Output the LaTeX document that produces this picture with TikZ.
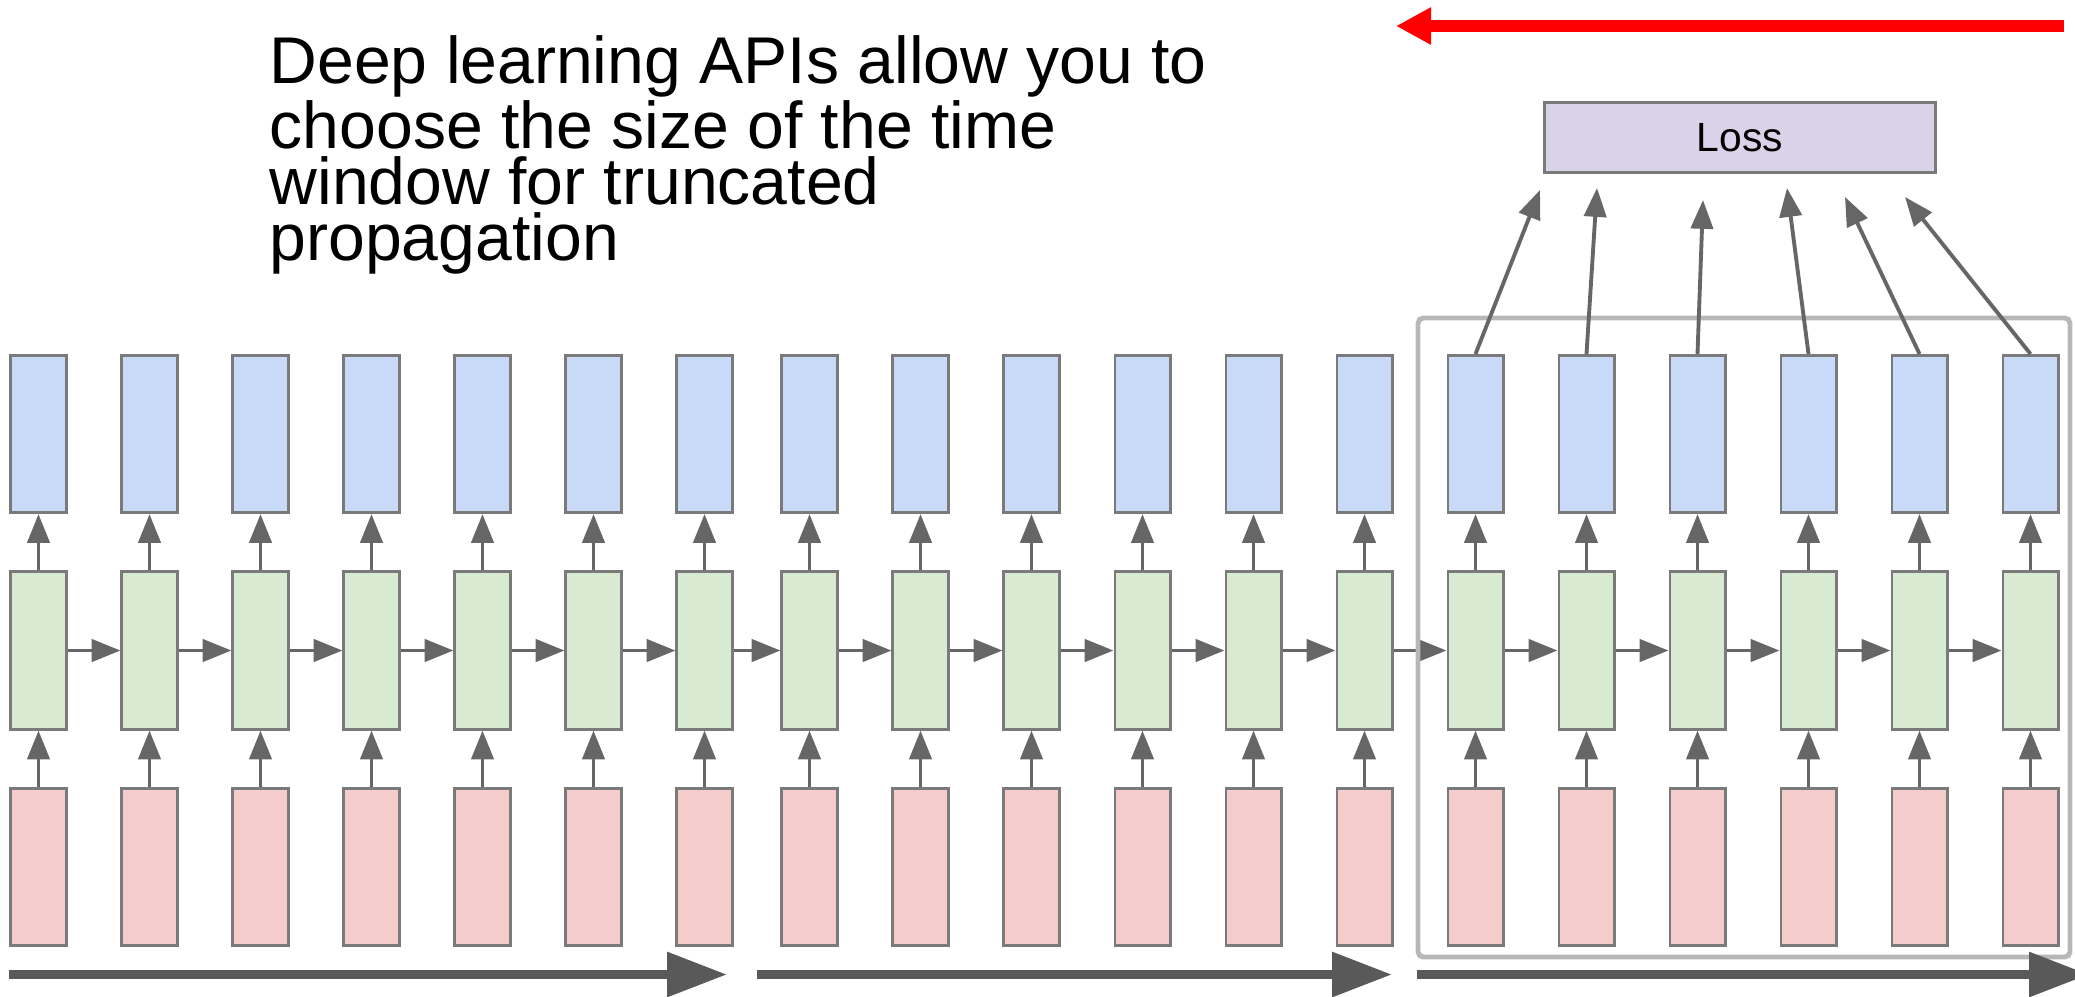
\documentclass[tikz,border=0pt]{standalone}
\usepackage{fontspec}
\setmainfont{Liberation Sans}
\usetikzlibrary{arrows.meta, positioning}

\definecolor{outblue}{HTML}{C9DAF8}
\definecolor{hidgreen}{HTML}{D9EAD3}
\definecolor{inred}{HTML}{F4CCCC}
\definecolor{losspurple}{HTML}{D9D2E9}
\definecolor{edgegray}{HTML}{7A7A7A}
\definecolor{arrowgray}{HTML}{666666}
\definecolor{bargray}{HTML}{595959}
\definecolor{windowgray}{HTML}{B7B7B7}

\tikzset{
	cell/.style={draw=edgegray, line width=0.85pt, minimum width=0.55cm, minimum height=1.57cm, inner sep=0pt},
	flow/.style={arrowgray, line width=1.1pt, -{Triangle[length=8.2pt, width=6.3pt]}},
	timeline/.style={bargray, line width=2.6pt, -{Triangle[length=17pt, width=12.2pt]}},
}

\begin{document}
\begin{tikzpicture}[x=0.01cm, y=-0.01cm]
		\clip (0,0) rectangle (2075,996);
		%\draw [help lines, step=100] (0,0) grid (2075,996);
		\node[anchor=north west, inner sep=0pt, align=left, font=\fontsize{18.8}{15.9}\selectfont] (note) at (269,35) {Deep learning APIs allow you to\\choose the size of the time\\window for truncated\\propagation};
		\draw[red, line width=3.4pt, -{Triangle[length=10pt, width=10pt]}] (2064,26) -- (1396,26);
		% unrolled cells
		\foreach \i in {1,...,19} {
			\pgfmathsetmacro{\xx}{(\i<8 ? 11+111*(\i-1) : 782+111*(\i-8)) + 27.5}
			\node[cell, fill=inred] (r\i) at (\xx,867) {};
			\node[cell, fill=hidgreen] (g\i) at (\xx,650.5) {};
			\node[cell, fill=outblue] (b\i) at (\xx,434) {};
			\draw[flow] (r\i) -- (g\i);
			\draw[flow] (g\i) -- (b\i);
		}
		\foreach \i [evaluate=\i as \j using int(\i+1)] in {1,...,18}
			\draw[flow] (g\i) -- (g\j);
		% truncation window
		\draw[windowgray, line width=1.4pt, rounded corners=1.5pt] (1418,318) rectangle (2070,957);
		\node[draw=edgegray, line width=0.85pt, fill=losspurple, minimum width=3.9cm, minimum height=0.69cm, inner sep=0pt, font=\fontsize{11.6}{13}\selectfont] (loss) at (1740,137.5) {Loss};
		\foreach \i/\tx/\ty in {14/1540/190, 15/1597/188, 16/1703/200, 17/1787/188, 18/1845/197, 19/1905/197} {
			\coordinate (t\i) at (\tx,\ty);
			\draw[flow] (b\i.north) -- (t\i);
		}
		\draw[timeline] (9,974.5) -- (727,974.5);
		\draw[timeline] (757,974.5) -- (1392,974.5);
		\draw[timeline] (1417,974.5) -- (2089,974.5);
	\end{tikzpicture}
\end{document}
